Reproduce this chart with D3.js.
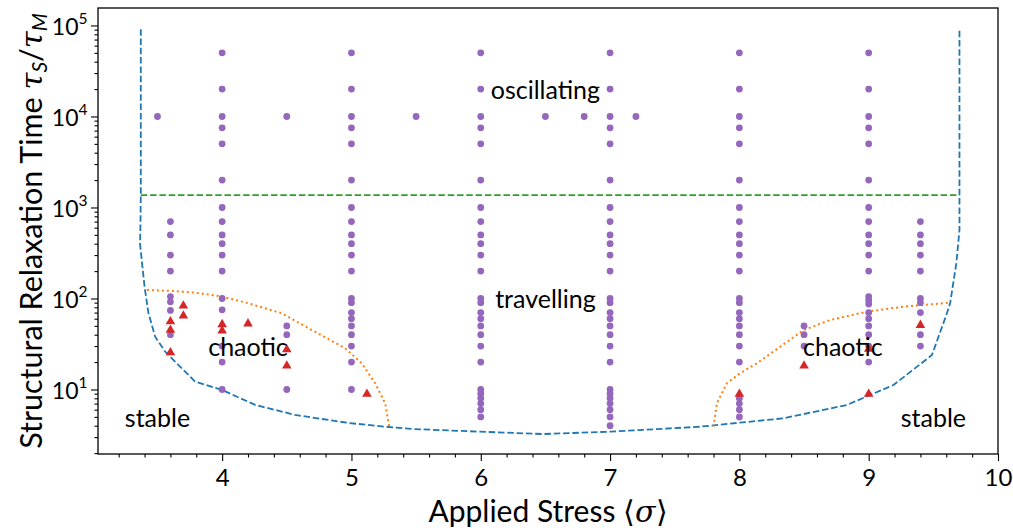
<!DOCTYPE html>
<html>
<head>
<meta charset="utf-8">
<script src="https://cdn.jsdelivr.net/npm/d3@7/dist/d3.min.js"></script>
<style>
  html, body { margin: 0; padding: 0; background: #fff; }
  svg { display: block; font-family: Lato, "Noto Sans", sans-serif; }
</style>
</head>
<body>
<svg id="chart" width="1013" height="531"></svg>
<script>
// ---- data ---------------------------------------------------------------
const xMajorTicks = [4, 5, 6, 7, 8, 9, 10];
const xMinorTicks = [3.2, 3.4, 3.6, 3.8, 4.2, 4.4, 4.6, 4.8, 5.2, 5.4, 5.6, 5.8,
  6.2, 6.4, 6.6, 6.8, 7.2, 7.4, 7.6, 7.8, 8.2, 8.4, 8.6, 8.8, 9.2, 9.4, 9.6, 9.8];
const yMajorExponents = [1, 2, 3, 4, 5];

// simulated (stress, relaxation time) pairs, one array of times per stress column
const colStress = [3.6, 4, 5, 6, 7, 8, 8.5, 9, 9.4];
const tau36 = [700, 500, 300, 200, 105, 92, 74, 40];
const tau40 = [5e4, 2e4, 1e4, 7.5e3, 5e3, 2e3, 1e3, 700, 500, 400, 300, 200, 100, 75, 30, 20, 10];
const tau50 = [5e4, 2e4, 1e4, 7.5e3, 5e3, 2e3, 1e3, 700, 500, 400, 300, 200, 100, 90, 70, 60, 50, 40, 30, 20, 10];
const tau60 = [5e4, 2e4, 1e4, 7.5e3, 5e3, 2e3, 1e3, 700, 500, 400, 300, 200, 100, 90, 70, 60, 50, 40, 30, 20, 10, 9, 8, 7, 6, 5];
const tau70 = [5e4, 2e4, 1e4, 7.5e3, 5e3, 2e3, 1e3, 700, 500, 400, 300, 200, 100, 90, 70, 60, 50, 40, 30, 20, 10, 9, 8, 7, 6, 5, 4];
const tau80 = [5e4, 2e4, 1e4, 7.5e3, 5e3, 2e3, 1e3, 700, 500, 400, 300, 200, 100, 90, 70, 60, 50, 40, 30, 20, 8, 7, 6, 5];
const tau85 = [50, 40, 30];
const tau90 = [5e4, 2e4, 1e4, 7.5e3, 5e3, 2e3, 1e3, 700, 500, 400, 300, 200, 105, 96, 87, 70, 60, 50, 40, 30, 20];
const tau94 = [700, 500, 400, 300, 200, 100, 90, 70, 40, 30];
const colTau = [tau36, tau40, tau50, tau60, tau70, tau80, tau85, tau90, tau94];

// extra runs at tau = 1e4 and a few more stress values
const extraStress = [3.5, 4.5, 4.5, 4.5, 4.5, 5.5, 6.5, 6.8, 7.2];
const extraTau = [1e4, 1e4, 50, 40, 10, 1e4, 1e4, 1e4, 1e4];

// chaotic runs
const chaosStress = [3.6, 3.6, 3.6, 3.7, 3.7, 4, 4, 4.2, 4.5, 4.5, 5.12, 8, 8.5, 9, 9, 9.4];
const chaosTau = [57, 46, 26, 85, 66, 53, 45, 54, 28, 18.6, 9.1, 9.1, 18.6, 28.5, 9.1, 52];

// stability boundary
const boundaryStress = [3.371, 3.371, 3.368, 3.365, 3.40, 3.43, 3.482, 3.56, 3.611, 3.791, 3.998,
  4.255, 4.565, 4.975, 5.284, 5.477, 5.995, 6.483, 7.0, 7.696, 7.996, 8.339, 8.831,
  9.192, 9.489, 9.605, 9.63, 9.678, 9.702, 9.702];
const boundaryTau = [9.1e4, 1.4e3, 600, 400, 135, 69, 38, 26, 22, 12.2, 9.9,
  6.77, 5.25, 4.29, 3.87, 3.68, 3.44, 3.24, 3.44, 3.9, 4.31, 4.82, 6.76,
  11.2, 23.9, 68.7, 89, 245, 566, 9.2e4];

// oscillating / travelling threshold
const oscStress = [3.371, 9.702];
const oscTau = [1365, 1365];

// chaotic region borders
const chaosLeftStress = [3.418, 3.611, 3.791, 3.998, 4.203, 4.462, 4.694, 4.951, 5.08, 5.183, 5.261, 5.292];
const chaosLeftTau = [124, 121, 116, 105, 88.6, 68.7, 45, 28.4, 19.4, 11.7, 7.05, 3.9];
const chaosRightStress = [7.8, 7.826, 7.903, 8.006, 8.135, 8.316, 8.496, 8.702, 8.986, 9.269, 9.63];
const chaosRightTau = [3.9, 7.05, 11.7, 15.1, 19.4, 29.5, 45, 58, 71.6, 81.3, 90];

// region names
const regionNames = ["oscillating", "travelling", "chaotic", "chaotic", "stable", "stable"];
const regionStress = [6.5, 6.5, 4.2, 8.8, 3.5, 9.5];
const regionTau = [2e4, 100, 30, 30, 5, 5];

// ---- layout ---------------------------------------------------------------
const svg = d3.select("#chart");
const pL = 98, pR = 998, pT = 8, pB = 454;

const x = d3.scaleLinear().domain([3.04, 10.0]).range([pL, pR]);
const y = d3.scaleLog().domain([1.955, 1.556e5]).range([pB, pT]);

const purple = "#9467bd", red = "#d62728", blue = "#1f77b4", green = "#2ca02c", orange = "#ff7f0e";

svg.append("defs").append("clipPath").attr("id", "plotclip")
  .append("rect").attr("x", pL).attr("y", pT).attr("width", pR - pL).attr("height", pB - pT);

const plot = svg.append("g").attr("clip-path", "url(#plotclip)");

const zip = (xs, ys) => xs.map((v, i) => [v, ys[i]]);
const line = d3.line().x(d => x(d[0])).y(d => y(d[1]));

// lines
plot.append("path").datum(zip(boundaryStress, boundaryTau))
  .attr("d", line).attr("fill", "none").attr("stroke", blue)
  .attr("stroke-width", 1.8).attr("stroke-dasharray", "6.5,2.8");
plot.append("path").datum(zip(oscStress, oscTau))
  .attr("d", line).attr("fill", "none").attr("stroke", green)
  .attr("stroke-width", 1.8).attr("stroke-dasharray", "6.5,2.8");
[zip(chaosLeftStress, chaosLeftTau), zip(chaosRightStress, chaosRightTau)].forEach(pts => {
  plot.append("path").datum(pts)
    .attr("d", line).attr("fill", "none").attr("stroke", orange)
    .attr("stroke-width", 2).attr("stroke-dasharray", "2,3");
});

// purple points
const purplePts = [];
colStress.forEach((s, i) => colTau[i].forEach(t => purplePts.push([s, t])));
extraStress.forEach((s, i) => purplePts.push([s, extraTau[i]]));
plot.append("g").selectAll("circle").data(purplePts).join("circle")
  .attr("cx", d => x(d[0])).attr("cy", d => y(d[1])).attr("r", 3.4)
  .attr("fill", purple);

// red triangles
const tri = d3.symbol().type(d3.symbolTriangle).size(40);
plot.append("g").selectAll("path").data(zip(chaosStress, chaosTau)).join("path")
  .attr("d", tri)
  .attr("transform", d => `translate(${x(d[0])},${y(d[1]) + 0.8})`)
  .attr("fill", red);

// region names
svg.append("g").selectAll("text").data(regionNames).join("text")
  .attr("x", (d, i) => x(regionStress[i]))
  .attr("y", (d, i) => y(regionTau[i]))
  .attr("text-anchor", "middle")
  .attr("dominant-baseline", "central")
  .attr("font-size", 25)
  .attr("fill", "#000")
  .text(d => d);

// ---- axes -------------------------------------------------------------------
const xAxis = svg.append("g").attr("transform", `translate(0,${pB})`);
xAxis.call(d3.axisBottom(x).tickValues(xMinorTicks).tickSize(3.5).tickFormat(""));
xAxis.append("g").call(d3.axisBottom(x).tickValues(xMajorTicks).tickSize(7).tickPadding(8)
  .tickFormat(d3.format("d")));
xAxis.selectAll(".domain").remove();
xAxis.selectAll("line").attr("stroke-width", 1.1);
xAxis.selectAll("text").attr("font-size", 24).attr("font-family", "Lato, sans-serif").attr("fill", "#000");

const yMinor = [];
for (let e = 0; e <= 5; e++) for (let m = 2; m <= 9; m++) {
  const v = m * Math.pow(10, e);
  if (v > 1.955 && v < 1.556e5) yMinor.push(v);
}
const yAxis = svg.append("g").attr("transform", `translate(${pL},0)`);
yAxis.call(d3.axisLeft(y).tickValues(yMinor).tickSize(3.5).tickFormat(""));
yAxis.append("g").call(d3.axisLeft(y).tickValues(yMajorExponents.map(e => Math.pow(10, e)))
  .tickSize(7).tickFormat(""));
yAxis.selectAll(".domain").remove();
yAxis.selectAll("line").attr("stroke-width", 1.1);

const yLab = svg.append("g").selectAll("text").data(yMajorExponents).join("text")
  .attr("x", pL - 10.5)
  .attr("y", d => y(Math.pow(10, d)) + 9.5)
  .attr("text-anchor", "end")
  .attr("font-size", 23)
  .attr("fill", "#000");
yLab.append("tspan").text("10");
yLab.append("tspan").attr("font-size", 15.5).attr("dy", -10.5).text(d => d);

// frame
svg.append("rect").attr("x", pL).attr("y", pT)
  .attr("width", pR - pL).attr("height", pB - pT)
  .attr("fill", "none").attr("stroke", "#000").attr("stroke-width", 1.3);

// axis titles
const xTitle = svg.append("text")
  .attr("x", (pL + pR) / 2).attr("y", 521.5)
  .attr("text-anchor", "middle").attr("font-size", 30).attr("fill", "#000");
xTitle.append("tspan").text("Applied Stress ");
xTitle.append("tspan").text("\u27E8");
xTitle.append("tspan").attr("font-style", "italic").attr("font-family", "DejaVu Serif, serif").text("σ");
xTitle.append("tspan").text("\u27E9");

const yTitle = svg.append("text")
  .attr("transform", `translate(42,${(pT + pB) / 2}) rotate(-90)`)
  .attr("text-anchor", "middle").attr("font-size", 30.5).attr("fill", "#000");
yTitle.append("tspan").text("Structural Relaxation Time ");
yTitle.append("tspan").attr("font-style", "italic").attr("font-family", "DejaVu Serif, serif").text("τ");
yTitle.append("tspan").attr("font-style", "italic").attr("font-size", 21).attr("dy", 5).text("S");
yTitle.append("tspan").attr("dy", -5).text("/");
yTitle.append("tspan").attr("font-style", "italic").attr("font-family", "DejaVu Serif, serif").text("τ");
yTitle.append("tspan").attr("font-style", "italic").attr("font-size", 21).attr("dy", 5).text("M");
</script>
</body>
</html>
